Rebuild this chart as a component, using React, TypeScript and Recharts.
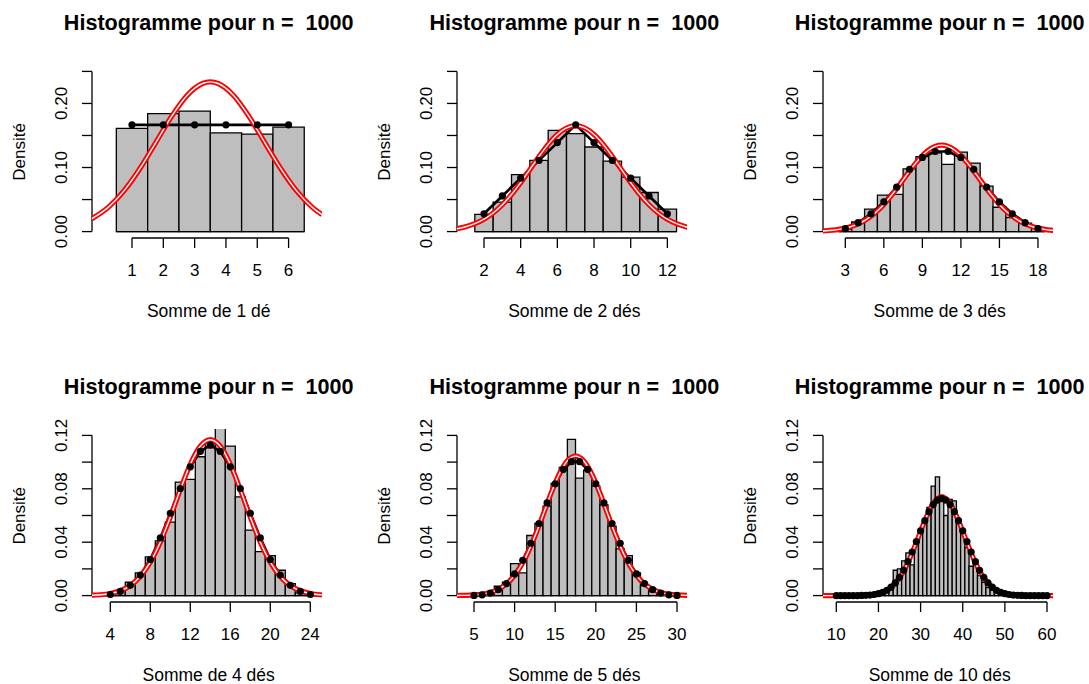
import React from "react";
import { ComposedChart, XAxis, YAxis, Line, ReferenceArea, ReferenceLine } from "recharts";

const FONT = "'Liberation Sans', Arial, Helvetica, sans-serif";

// ---- 1 dé ----
const dice1 = [1, 2, 3, 4, 5, 6];
const hist1 = [0.161, 0.184, 0.188, 0.154, 0.152, 0.163];
const exact1 = [0.1667, 0.1667, 0.1667, 0.1667, 0.1667, 0.1667];
const normX1 = [-0.28, 0.25, 0.75, 1.25, 1.75, 2.25, 2.75, 3.25, 3.5, 3.75, 4.25, 4.75, 5.25, 5.75, 6.25, 6.75, 7.07];
const normY1 = [0.0202, 0.0382, 0.0639, 0.0981, 0.1382, 0.1787, 0.2121, 0.2311, 0.2336, 0.2311, 0.2121, 0.1787, 0.1382, 0.0981, 0.0639, 0.0382, 0.0263];
const xTicks1 = [1, 2, 3, 4, 5, 6];

// ---- 2 dés ----
const dice2 = [2, 3, 4, 5, 6, 7, 8, 9, 10, 11, 12];
const hist2 = [0.027, 0.046, 0.089, 0.111, 0.158, 0.153, 0.132, 0.11, 0.085, 0.061, 0.035];
const exact2 = [0.0278, 0.0556, 0.0833, 0.1111, 0.1389, 0.1667, 0.1389, 0.1111, 0.0833, 0.0556, 0.0278];
const normX2 = [0.5, 1, 1.5, 2, 2.5, 3, 3.5, 4, 4.5, 5, 5.5, 6, 6.5, 7, 7.5, 8, 8.5, 9, 9.5, 10, 10.5, 11, 11.5, 12, 12.5, 13, 13.5];
const normY2 = [0.0044, 0.0076, 0.0124, 0.0194, 0.0291, 0.0419, 0.0578, 0.0764, 0.0967, 0.1172, 0.1362, 0.1516, 0.1617, 0.1652, 0.1617, 0.1516, 0.1362, 0.1172, 0.0967, 0.0764, 0.0578, 0.0419, 0.0291, 0.0194, 0.0124, 0.0076, 0.0044];
const xTicks2 = [2, 4, 6, 8, 10, 12];

// ---- 3 dés ----
const dice3 = [3, 4, 5, 6, 7, 8, 9, 10, 11, 12, 13, 14, 15, 16, 17, 18];
const hist3 = [0.004, 0.015, 0.035, 0.057, 0.058, 0.098, 0.117, 0.123, 0.105, 0.124, 0.107, 0.071, 0.038, 0.022, 0.013, 0.005];
const exact3 = [0.0046, 0.0139, 0.0278, 0.0463, 0.0694, 0.0972, 0.1157, 0.125, 0.125, 0.1157, 0.0972, 0.0694, 0.0463, 0.0278, 0.0139, 0.0046];
const normX3 = [1, 1.5, 2, 2.5, 3, 3.5, 4, 4.5, 5, 5.5, 6, 6.5, 7, 7.5, 8, 8.5, 9, 9.5, 10, 10.5, 11, 11.5, 12, 12.5, 13, 13.5, 14, 14.5, 15, 15.5, 16, 16.5, 17, 17.5, 18, 18.5, 19, 19.5, 20];
const normY3 = [0.0008, 0.0013, 0.0022, 0.0035, 0.0054, 0.0082, 0.0121, 0.0172, 0.0239, 0.0323, 0.0424, 0.0541, 0.067, 0.0807, 0.0944, 0.1073, 0.1186, 0.1274, 0.133, 0.1349, 0.133, 0.1274, 0.1186, 0.1073, 0.0944, 0.0807, 0.067, 0.0541, 0.0424, 0.0323, 0.0239, 0.0172, 0.0121, 0.0082, 0.0054, 0.0035, 0.0022, 0.0013, 0.0008];
const xTicks3 = [3, 6, 9, 12, 15, 18];

// ---- 4 dés ----
const dice4 = [4, 5, 6, 7, 8, 9, 10, 11, 12, 13, 14, 15, 16, 17, 18, 19, 20, 21, 22, 23, 24];
const hist4 = [0.001, 0.003, 0.01, 0.017, 0.029, 0.041, 0.055, 0.085, 0.087, 0.104, 0.115, 0.127, 0.112, 0.074, 0.049, 0.033, 0.03, 0.019, 0.009, 0.002, 0.001];
const exact4 = [0.0008, 0.0031, 0.0077, 0.0154, 0.027, 0.0432, 0.0617, 0.0802, 0.0965, 0.108, 0.1127, 0.108, 0.0965, 0.0802, 0.0617, 0.0432, 0.027, 0.0154, 0.0077, 0.0031, 0.0008];
const normX4 = [2, 3, 4, 5, 6, 7, 8, 9, 10, 11, 12, 13, 14, 15, 16, 17, 18, 19, 20, 21, 22, 23, 24, 25, 26];
const normY4 = [0.00024, 0.00065, 0.0016, 0.0036, 0.0075, 0.0143, 0.025, 0.04, 0.0588, 0.0794, 0.0984, 0.1119, 0.1168, 0.1119, 0.0984, 0.0794, 0.0588, 0.04, 0.025, 0.0143, 0.0075, 0.0036, 0.0016, 0.00065, 0.00024];
const xTicks4 = [4, 8, 12, 16, 20, 24];

// ---- 5 dés ----
const dice5 = [5, 6, 7, 8, 9, 10, 11, 12, 13, 14, 15, 16, 17, 18, 19, 20, 21, 22, 23, 24, 25, 26, 27, 28, 29, 30];
const hist5 = [0, 0.001, 0.002, 0.007, 0.01, 0.024, 0.017, 0.045, 0.054, 0.067, 0.084, 0.096, 0.117, 0.088, 0.094, 0.082, 0.068, 0.052, 0.035, 0.03, 0.017, 0.0075, 0.003, 0.001, 0, 0];
const exact5 = [0.0001, 0.0006, 0.0019, 0.0045, 0.009, 0.0162, 0.0264, 0.0392, 0.054, 0.0694, 0.0837, 0.0945, 0.1003, 0.1003, 0.0945, 0.0837, 0.0694, 0.054, 0.0392, 0.0264, 0.0162, 0.009, 0.0045, 0.0019, 0.0006, 0.0001];
const normX5 = [2.5, 3.5, 4.5, 5.5, 6.5, 7.5, 8.5, 9.5, 10.5, 11.5, 12.5, 13.5, 14.5, 15.5, 16.5, 17.5, 18.5, 19.5, 20.5, 21.5, 22.5, 23.5, 24.5, 25.5, 26.5, 27.5, 28.5, 29.5, 30.5, 31.5, 32.5];
const normY5 = [0.00005, 0.00013, 0.00032, 0.00075, 0.0016, 0.0034, 0.0065, 0.0116, 0.0195, 0.0304, 0.0444, 0.0604, 0.0768, 0.0911, 0.101, 0.1045, 0.101, 0.0911, 0.0768, 0.0604, 0.0444, 0.0304, 0.0195, 0.0116, 0.0065, 0.0034, 0.0016, 0.00075, 0.00032, 0.00013, 0.00005];
const xTicks5 = [5, 10, 15, 20, 25, 30];

// ---- 10 dés ----
const dice6 = [10, 11, 12, 13, 14, 15, 16, 17, 18, 19, 20, 21, 22, 23, 24, 25, 26, 27, 28, 29, 30, 31, 32, 33, 34, 35, 36, 37, 38, 39, 40, 41, 42, 43, 44, 45, 46, 47, 48, 49, 50, 51, 52, 53, 54, 55, 56, 57, 58, 59, 60];
const hist6 = [0, 0, 0, 0, 0, 0, 0, 0, 0, 0, 0.001, 0.002, 0.003, 0.005, 0.019, 0.02, 0.026, 0.032, 0.023, 0.041, 0.049, 0.056, 0.066, 0.082, 0.089, 0.075, 0.06, 0.072, 0.071, 0.057, 0.047, 0.036, 0.022, 0.023, 0.015, 0.01, 0.006, 0.004, 0.002, 0.001, 0, 0, 0, 0, 0, 0, 0, 0, 0, 0, 0];
const exact6 = [0, 0, 0, 0, 0, 0, 0.0001, 0.0002, 0.0004, 0.0008, 0.0014, 0.0024, 0.004, 0.0063, 0.0095, 0.0137, 0.019, 0.0254, 0.0326, 0.0405, 0.0485, 0.0561, 0.0629, 0.0682, 0.0715, 0.0727, 0.0715, 0.0682, 0.0629, 0.0561, 0.0485, 0.0405, 0.0326, 0.0254, 0.019, 0.0137, 0.0095, 0.0063, 0.004, 0.0024, 0.0014, 0.0008, 0.0004, 0.0002, 0.0001, 0, 0, 0, 0, 0, 0];
const normX6 = [5, 7, 9, 11, 13, 15, 17, 19, 21, 23, 25, 27, 29, 31, 33, 35, 37, 39, 41, 43, 45, 47, 49, 51, 53, 55, 57, 59, 61, 63, 65];
const normY6 = [0, 0, 0, 0, 0.00002, 0.00008, 0.00029, 0.00092, 0.0026, 0.0063, 0.0133, 0.0247, 0.0399, 0.0561, 0.069, 0.0739, 0.069, 0.0561, 0.0399, 0.0247, 0.0133, 0.0063, 0.0026, 0.00092, 0.00029, 0.00008, 0.00002, 0, 0, 0, 0];
const xTicks6 = [10, 20, 30, 40, 50, 60];

// y axes: top row / bottom row
const yTicksTop = [0, 0.05, 0.1, 0.15, 0.2, 0.25];
const yLabelsTop = [0, 0.1, 0.2];
const yTicksBottom = [0, 0.02, 0.04, 0.06, 0.08, 0.1, 0.12];
const yLabelsBottom = [0, 0.04, 0.08, 0.12];

const title = "Histogramme pour n =  1000";
const xLabels = ["Somme de 1 dé", "Somme de 2 dés", "Somme de 3 dés", "Somme de 4 dés", "Somme de 5 dés", "Somme de 10 dés"];

const toPoints = (xs: number[], ys: number[]) => xs.map((x, i) => ({ x, y: ys[i] }));

const panels = [
  { dice: dice1, hist: hist1, exact: exact1, nx: normX1, ny: normY1, xTicks: xTicks1, xDomain: [-0.277, 7.067] },
  { dice: dice2, hist: hist2, exact: exact2, nx: normX2, ny: normY2, xTicks: xTicks2, xDomain: [0.528, 13.07] },
  { dice: dice3, hist: hist3, exact: exact3, nx: normX3, ny: normY3, xTicks: xTicks3, xDomain: [1.264, 19.17] },
  { dice: dice4, hist: hist4, exact: exact4, nx: normX4, ny: normY4, xTicks: xTicks4, xDomain: [2.17, 25.17] },
  { dice: dice5, hist: hist5, exact: exact5, nx: normX5, ny: normY5, xTicks: xTicks5, xDomain: [2.906, 31.23] },
  { dice: dice6, hist: hist6, exact: exact6, nx: normX6, ny: normY6, xTicks: xTicks6, xDomain: [6.844, 61.42] },
];

// layout (px)
const colLeft = [91.7, 457.3, 822.7];
const rowTop = [65.4, 429.3];
const PLOT_W = 230;
const PLOT_H = 173;
const CH_W = 366;
const CH_H = 364;
const IN_LEFT = 92; // plot left inside each chart
const IN_TOP = 65;
const Y_AXIS_W = 60;
const X_AXIS_H = 60;

function Panel({ idx }: { idx: number }) {
  const p = panels[idx];
  const row = idx < 3 ? 0 : 1;
  const col = idx % 3;
  const yTicks = row === 0 ? yTicksTop : yTicksBottom;
  const yLabels = row === 0 ? yLabelsTop : yLabelsBottom;
  const yDomain = row === 0 ? [-0.01, 0.26] : [-0.0048, 0.1248];
  const axisY = IN_TOP + PLOT_H;

  const XTick = (props: any) => {
    const { x, payload } = props;
    return (
      <g>
        <line x1={x} x2={x} y1={axisY} y2={axisY + 10} stroke="#000" strokeWidth={1.3} />
        <text x={x} y={axisY + 37.5} textAnchor="middle" fontSize={17} fontFamily={FONT} fill="#000">
          {payload.value}
        </text>
      </g>
    );
  };

  const YTick = (props: any) => {
    const { y, payload } = props;
    const showLabel = yLabels.some((v) => Math.abs(v - payload.value) < 1e-9);
    return (
      <g>
        <line x1={IN_LEFT - 10} x2={IN_LEFT} y1={y} y2={y} stroke="#000" strokeWidth={1.3} />
        {showLabel && (
          <text
            x={IN_LEFT - 25}
            y={y}
            transform={`rotate(-90 ${IN_LEFT - 25} ${y})`}
            textAnchor="middle"
            fontSize={17}
            fontFamily={FONT}
            fill="#000"
          >
            {payload.value.toFixed(2)}
          </text>
        )}
      </g>
    );
  };

  const exactData = toPoints(p.dice, p.exact);
  const normData = toPoints(p.nx, p.ny);
  const first = p.dice[0] - 0.5;
  const last = p.dice[p.dice.length - 1] + 0.5;

  return (
    <div
      style={{
        position: "absolute",
        left: colLeft[col] - IN_LEFT,
        top: rowTop[row] - IN_TOP,
        width: CH_W,
        height: CH_H,
      }}
    >
      <ComposedChart
        width={CH_W}
        height={CH_H}
        margin={{
          top: IN_TOP,
          left: IN_LEFT - Y_AXIS_W,
          right: CH_W - IN_LEFT - PLOT_W,
          bottom: CH_H - IN_TOP - PLOT_H - X_AXIS_H,
        }}
      >
        <XAxis
          type="number"
          dataKey="x"
          domain={p.xDomain}
          allowDataOverflow
          ticks={p.xTicks}
          interval={0}
          height={X_AXIS_H}
          axisLine={false}
          tickLine={false}
          tick={XTick}
        />
        <YAxis
          type="number"
          domain={yDomain}
          allowDataOverflow
          ticks={yTicks}
          interval={0}
          width={Y_AXIS_W}
          axisLine={false}
          tickLine={false}
          tick={YTick}
        />
        {/* axis lines, R style (from first to last tick) */}
        <ReferenceLine
          segment={[
            { x: p.xTicks[0], y: yDomain[0] },
            { x: p.xTicks[p.xTicks.length - 1], y: yDomain[0] },
          ]}
          stroke="#000"
          strokeWidth={1.3}
          ifOverflow="visible"
        />
        <ReferenceLine
          segment={[
            { x: p.xDomain[0], y: 0 },
            { x: p.xDomain[0], y: yTicks[yTicks.length - 1] },
          ]}
          stroke="#000"
          strokeWidth={1.3}
          ifOverflow="visible"
        />
        {/* histogram bars */}
        {p.dice.map((d, i) =>
          p.hist[i] > 0 ? (
            <ReferenceArea
              key={d}
              x1={d - 0.5}
              x2={d + 0.5}
              y1={0}
              y2={p.hist[i]}
              fill="#BEBEBE"
              fillOpacity={1}
              stroke="#000"
              strokeWidth={1.3}
              ifOverflow="hidden"
            />
          ) : null
        )}
        <ReferenceLine
          segment={[
            { x: first, y: 0 },
            { x: last, y: 0 },
          ]}
          stroke="#000"
          strokeWidth={1.3}
        />
        {/* exact distribution */}
        <Line
          data={exactData}
          dataKey="y"
          type="linear"
          stroke="#000"
          strokeWidth={2.7}
          dot={{ r: 3.6, fill: "#000", stroke: "#000", strokeWidth: 0 }}
          isAnimationActive={false}
        />
        {/* normal density, red with white core */}
        <Line
          data={normData}
          dataKey="y"
          type="monotone"
          stroke="#FF0000"
          strokeWidth={5.2}
          dot={false}
          isAnimationActive={false}
        />
        <Line
          data={normData}
          dataKey="y"
          type="monotone"
          stroke="#FFFFFF"
          strokeWidth={1.4}
          dot={false}
          isAnimationActive={false}
        />
      </ComposedChart>
    </div>
  );
}

export default function App() {
  return (
    <div
      style={{
        position: "fixed",
        left: 0,
        top: 0,
        width: 1089,
        height: 684,
        background: "#fff",
        overflow: "hidden",
      }}
    >
      {panels.map((_, i) => (
        <Panel key={i} idx={i} />
      ))}
      <svg
        width={1089}
        height={684}
        style={{ position: "absolute", left: 0, top: 0, pointerEvents: "none" }}
      >
        {panels.map((_, i) => {
          const row = i < 3 ? 0 : 1;
          const col = i % 3;
          const cx = colLeft[col] + PLOT_W / 2 + 2;
          const top = rowTop[row];
          const bottom = top + PLOT_H;
          const ylx = colLeft[col] - 67;
          const yly = top + PLOT_H / 2;
          return (
            <g key={i} fontFamily={FONT} fill="#000">
              <text
                x={cx}
                y={top - 35.4}
                textAnchor="middle"
                fontSize={21.6}
                fontWeight="bold"
                style={{ whiteSpace: "pre" }}
              >
                {title}
              </text>
              <text x={cx} y={bottom + 78.5} textAnchor="middle" fontSize={17.5}>
                {xLabels[i]}
              </text>
              <text
                x={ylx}
                y={yly}
                transform={`rotate(-90 ${ylx} ${yly})`}
                textAnchor="middle"
                fontSize={17}
              >
                Densité
              </text>
            </g>
          );
        })}
      </svg>
    </div>
  );
}
